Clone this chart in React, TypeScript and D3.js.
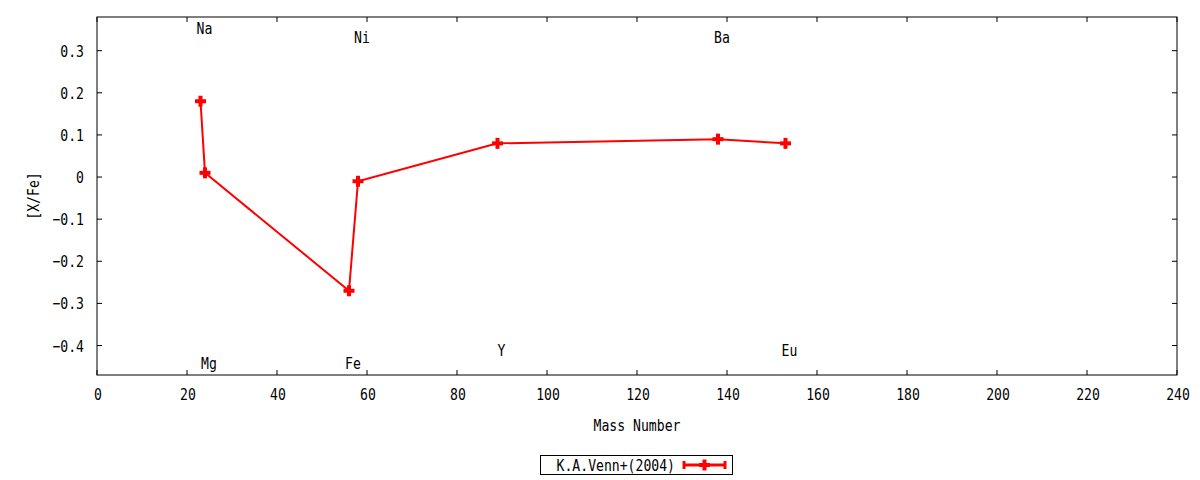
import React from "react";
import * as d3 from "d3";

const elements = ["Na", "Mg", "Fe", "Ni", "Y", "Ba", "Eu"];
const massNumbers = [23, 24, 56, 58, 89, 138, 153];
const xfeValues = [0.18, 0.01, -0.27, -0.01, 0.08, 0.09, 0.08];
const labelYValues = [0.355, -0.442, -0.442, 0.332, -0.41, 0.332, -0.41];
const xTicks = [0, 20, 40, 60, 80, 100, 120, 140, 160, 180, 200, 220, 240];
const yTicks = [-0.4, -0.3, -0.2, -0.1, 0, 0.1, 0.2, 0.3];
const seriesName = "K.A.Venn+(2004)";

const W = 1200;
const H = 480;
const m = { left: 97, right: 23, top: 17, bottom: 105 };
const FONT = "'DejaVu Sans Mono', monospace";
const RED = "#ff0000";
const SX = 0.82;

type TP = { x: number; y: number; anchor?: "start" | "middle" | "end"; rotate?: number; children: React.ReactNode };
function T({ x, y, anchor = "middle", rotate = 0, children }: TP) {
  return (
    <text
      transform={`translate(${x},${y}) rotate(${rotate}) scale(${SX},1)`}
      textAnchor={anchor}
      dominantBaseline="central"
    >
      {children}
    </text>
  );
}

export default function App() {
  const x = d3.scaleLinear().domain([0, 240]).range([m.left, W - m.right]);
  const y = d3.scaleLinear().domain([-0.47, 0.38]).range([H - m.bottom, m.top]);
  const pts = massNumbers.map((mn, i) => [x(mn), y(xfeValues[i])] as [number, number]);
  const line = d3.line()(pts) || "";
  const x0 = x(0), x1 = x(240), y0 = y(-0.47), y1 = y(0.38);
  const tl = 5;
  const fmtY = (v: number) => (Math.abs(v) < 1e-9 ? "0" : d3.format(".1f")(v));
  const plus = (cx: number, cy: number, k: string | number) => (
    <g key={k}>
      <line x1={cx - 5.5} x2={cx + 5.5} y1={cy} y2={cy} stroke={RED} strokeWidth={4} />
      <line x1={cx} x2={cx} y1={cy - 5.5} y2={cy + 5.5} stroke={RED} strokeWidth={4} />
    </g>
  );
  const lg = { x: 540.5, y: 455.5, w: 192, h: 19 };
  const ly = lg.y + lg.h / 2;
  return (
    <svg width={W} height={H} style={{ position: "absolute", left: 0, top: 0, background: "#fff" }} fontFamily={FONT} fontSize={16}>
      <rect x={0} y={0} width={W} height={H} fill="#fff" />
      {xTicks.map((t) => (
        <g key={"x" + t}>
          <line x1={x(t)} x2={x(t)} y1={y0} y2={y0 - tl} stroke="#000" />
          <line x1={x(t)} x2={x(t)} y1={y1} y2={y1 + tl} stroke="#000" />
          <T x={x(t) + 1} y={394}>{t}</T>
        </g>
      ))}
      {yTicks.map((t) => (
        <g key={"y" + t}>
          <line x1={x0} x2={x0 + tl} y1={y(t)} y2={y(t)} stroke="#000" />
          <line x1={x1} x2={x1 - tl} y1={y(t)} y2={y(t)} stroke="#000" />
          <T x={84} y={y(t)} anchor="end">{fmtY(t)}</T>
        </g>
      ))}
      <rect x={x0} y={y1} width={x1 - x0} height={y0 - y1} fill="none" stroke="#000" />
      <path d={line} fill="none" stroke={RED} strokeWidth={2} />
      {pts.map((p, i) => plus(p[0], p[1], i))}
      {elements.map((e, i) => (
        <T key={e} x={x(massNumbers[i]) + 4} y={y(labelYValues[i])}>{e}</T>
      ))}
      <T x={(x0 + x1) / 2} y={425}>Mass Number</T>
      <T x={33} y={(y0 + y1) / 2} rotate={-90}>[X/Fe]</T>
      <rect x={lg.x} y={lg.y} width={lg.w} height={lg.h} fill="none" stroke="#000" />
      <T x={675} y={ly} anchor="end">{seriesName}</T>
      <line x1={684} x2={725} y1={ly} y2={ly} stroke={RED} strokeWidth={3} />
      <line x1={684} x2={684} y1={ly - 4} y2={ly + 4} stroke={RED} strokeWidth={3} />
      <line x1={725} x2={725} y1={ly - 4} y2={ly + 4} stroke={RED} strokeWidth={3} />
      {plus(704.5, ly, "lg")}
    </svg>
  );
}
